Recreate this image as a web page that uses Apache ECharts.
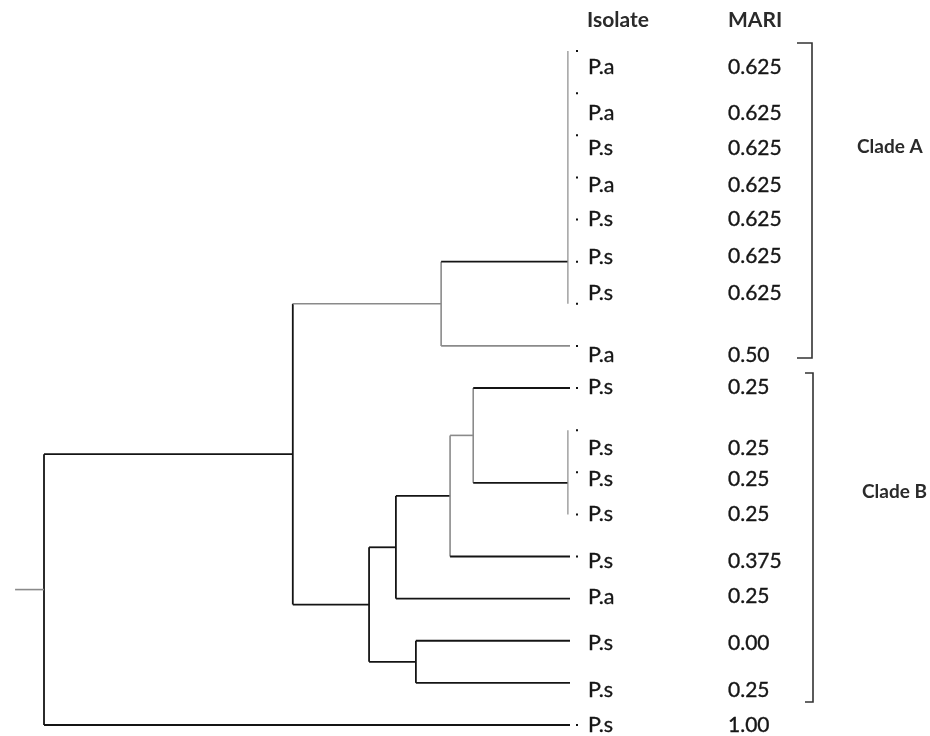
<!DOCTYPE html>
<html><head><meta charset="utf-8">
<script src="https://cdn.jsdelivr.net/npm/echarts@6/dist/echarts.min.js"></script>
<style>html,body{margin:0;padding:0;background:#fff}#c{width:930px;height:736px}</style>
</head><body><div id="c"></div>
<script>
// ---------------- DATA ----------------
const headers = ['Isolate', 'MARI'];
const isolates = ['P.a','P.a','P.s','P.a','P.s','P.s','P.s','P.a','P.s','P.s','P.s','P.s','P.s','P.a','P.s','P.s','P.s'];
const mariValues = ['0.625','0.625','0.625','0.625','0.625','0.625','0.625','0.50','0.25','0.25','0.25','0.25','0.375','0.25','0.00','0.25','1.00'];
const leafRows = [0,1,2,3,4,5,6,7,8,9,10,11,12,13,14,15,16];
const leavesWithTick = [0,1,2,3,4,5,6,7,8,9,10,11,12,16];
// internal nodes: relative linkage distance from root (0) to leaves (100)
const nodeNames    = ['root','N1','A','Apoly','B','B1','B11','B111','Bpoly','B2'];
const nodeHeights  = [0, 47.3, 75.5, 99.6, 61.8, 66.9, 77.2, 81.6, 99.6, 70.7];
const nodeChildren = [
  ['N1','L16'], ['A','B'], ['Apoly','L7'], ['L0','L1','L2','L3','L4','L5','L6'],
  ['B1','B2'], ['B11','L13'], ['B111','L12'], ['L8','Bpoly'], ['L9','L10','L11'], ['L14','L15']
];
const polytomyJoinRows = { Apoly: 5, Bpoly: 10.25 };
const cladeNames = ['Clade A', 'Clade B'];

// ---------------- LAYOUT / STYLE ----------------
const BLACK = '#141414', GRAY = '#8a8a8a', TEXT = '#161616';
const grayVerticals = ['A','Apoly','B11','B111','Bpoly'];
const grayEdges = ['A','L7','B111'];
const thinVerticals = ['Apoly','Bpoly'];
const LABEL_NUDGE = [16,20,13,8,0,-5,-11,9,-1,18,7,0,5,-2,2,7,0];
const ROOT_STUB = -5.5;
const FONT = 'Lato, "Open Sans", sans-serif';

// ---------------- TREE GEOMETRY ----------------
const nodeIndex = {}; nodeNames.forEach((n,i)=>nodeIndex[n]=i);
const posCache = {};
function pos(name){
  if (posCache[name]) return posCache[name];
  let p;
  if (nodeIndex[name]===undefined){
    p = {x:100, y:leafRows[+name.slice(1)]};
  } else {
    const i = nodeIndex[name];
    const ch = nodeChildren[i].map(pos);
    const y = polytomyJoinRows[name] !== undefined ? polytomyJoinRows[name]
             : ch.reduce((s,c)=>s+c.y,0)/ch.length;
    p = {x:nodeHeights[i], y};
  }
  posCache[name]=p; return p;
}
const segments = [];
nodeNames.forEach((name,i)=>{
  const p = pos(name);
  const ch = nodeChildren[i].map(c=>({n:c, p:pos(c)}));
  const ys = ch.map(c=>c.p.y);
  segments.push([p.x, Math.min(...ys), p.x, Math.max(...ys),
    grayVerticals.includes(name)?1:0, thinVerticals.includes(name)?1:0]);
  ch.forEach(c=>{
    if (c.p.x - p.x < 1) return; // polytomy members sit directly on the vertical
    segments.push([p.x, c.p.y, c.p.x, c.p.y, grayEdges.includes(c.n)?1:0, 0]);
  });
});
const rp = pos('root');
segments.push([ROOT_STUB, rp.y, rp.x, rp.y, 1, 0]);

const labelData = leafRows.map((r,i)=>[100, r, i]);
const tickData = leavesWithTick.map(i=>[100, leafRows[i]]);

// ---------------- CHART ----------------
const chart = echarts.init(document.getElementById('c'), null, {renderer:'canvas'});
const option = {
  animation:false,
  backgroundColor:'#fff',
  grid:{left:44, width:526, top:51, bottom:11},
  xAxis:{type:'value', min:0, max:100, show:false},
  yAxis:{type:'value', min:0, max:16, inverse:true, show:false},
  series:[
    {
      type:'custom', clip:false, silent:true, data:segments,
      renderItem(params, api){
        const a = api.coord([api.value(0), api.value(1)]);
        const b = api.coord([api.value(2), api.value(3)]);
        const gray = api.value(4)===1, thin = api.value(5)===1;
        return {type:'line', shape:{x1:a[0],y1:a[1],x2:b[0],y2:b[1]},
          style:{stroke: gray?GRAY:BLACK, lineWidth: thin?1.2:(gray?1.6:1.8), lineCap:'butt'}};
      }
    },
    {
      type:'custom', clip:false, silent:true, data:tickData,
      renderItem(params, api){
        const a = api.coord([api.value(0), api.value(1)]);
        return {type:'rect', shape:{x:a[0]+6, y:a[1]-1, width:2, height:2}, style:{fill:'#111'}};
      }
    },
    {
      type:'custom', clip:false, silent:true, data:labelData,
      renderItem(params, api){
        const a = api.coord([api.value(0), api.value(1)]);
        const i = api.value(2);
        const y = a[1] + LABEL_NUDGE[i];
        return {type:'group', children:[
          {type:'text', x:a[0]+18, y:y, style:{text:isolates[i], font:'21.5px '+FONT, fill:TEXT, stroke:TEXT, lineWidth:0.35, verticalAlign:'middle', align:'left'}},
          {type:'text', x:a[0]+158, y:y, style:{text:mariValues[i], font:'21px '+FONT, fill:TEXT, stroke:TEXT, lineWidth:0.35, verticalAlign:'middle', align:'left'}}
        ]};
      }
    }
  ],
  graphic:[
    {type:'text', x:587, y:20, style:{text:headers[0], font:'bold 21px '+FONT, fill:'#2a2a2a', verticalAlign:'middle'}},
    {type:'text', x:728, y:20, style:{text:headers[1], font:'bold 21px '+FONT, fill:'#2a2a2a', verticalAlign:'middle'}},
    {type:'polyline', shape:{points:[[797,43],[812,43],[812,358],[797,358]]}, style:{stroke:'#333', lineWidth:1.6, fill:null}},
    {type:'polyline', shape:{points:[[805,373],[813,373],[813,702],[805,702]]}, style:{stroke:'#333', lineWidth:1.6, fill:null}},
    {type:'text', x:857, y:147, style:{text:cladeNames[0], font:'bold 19px '+FONT, fill:'#2a2a2a', verticalAlign:'middle'}},
    {type:'text', x:862, y:492, style:{text:cladeNames[1], font:'bold 19px '+FONT, fill:'#2a2a2a', verticalAlign:'middle'}}
  ]
};
chart.setOption(option);
</script></body></html>
